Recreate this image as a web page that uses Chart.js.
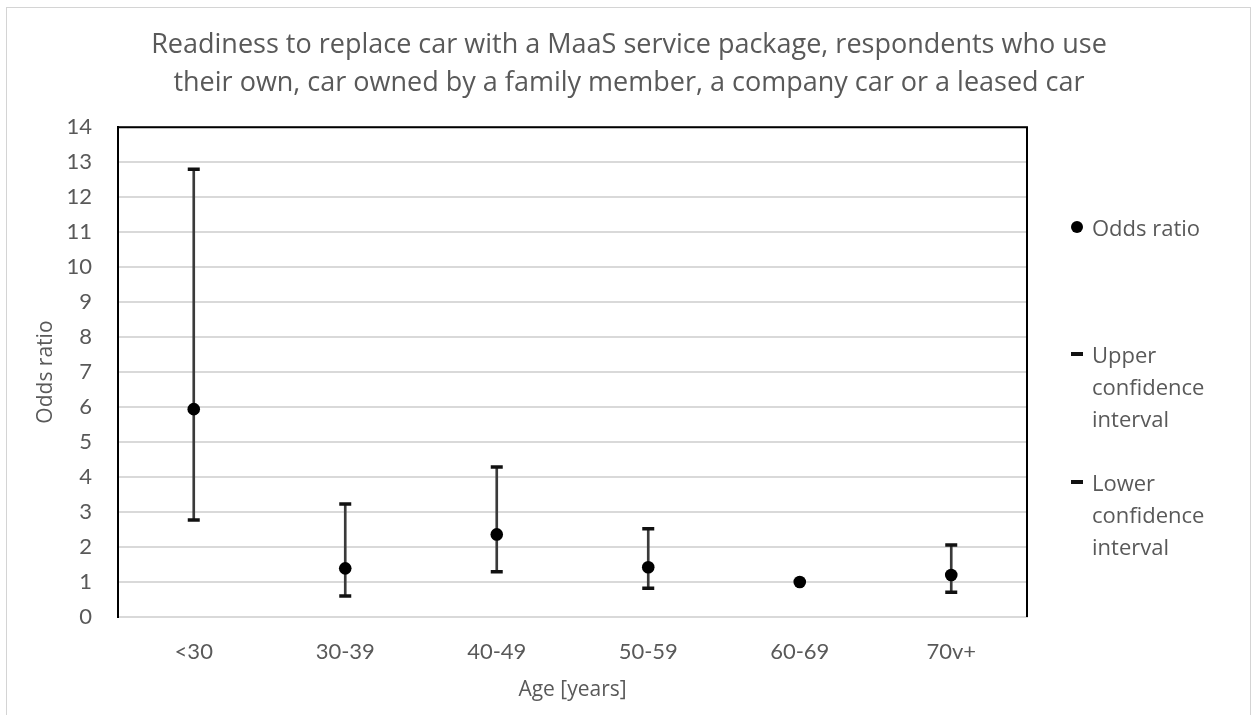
<!DOCTYPE html>
<html>
<head>
<meta charset="utf-8">
<script src="https://cdn.jsdelivr.net/npm/chart.js@4.4.1/dist/chart.umd.min.js"></script>
<style>
    html, body { margin: 0; padding: 0; background: #fff; overflow: hidden; }
    #wrap { position: relative; width: 1253px; height: 715px; }
    #frame { position: absolute; left: 6px; top: 7px; width: 1245px; height: 720px; border: 1px solid #d4d4d4; box-sizing: border-box; }
    #oddsChart { position: absolute; left: 0; top: 0; }
    .legend { position: absolute; left: 1071px; font-family: "Open Sans", sans-serif; font-size: 22px; color: #595959; line-height: 32px; }
    .legend .mark { position: absolute; left: 0; }
    .legend .txt { position: absolute; left: 21px; white-space: nowrap; }
    .dot { width: 12px; height: 12px; border-radius: 50%; background: #000; }
    .dash { width: 12px; height: 4px; background: #111; }
</style>
</head>
<body>
<div id="wrap">
    <div id="frame"></div>
    <canvas id="oddsChart" width="1253" height="715"></canvas>
    <div class="legend" style="top:211px">
        <div class="mark dot" style="top:10px"></div>
        <div class="txt">Odds ratio</div>
    </div>
    <div class="legend" style="top:338px">
        <div class="mark dash" style="top:14px"></div>
        <div class="txt">Upper<br>confidence<br>interval</div>
    </div>
    <div class="legend" style="top:466px">
        <div class="mark dash" style="top:14px"></div>
        <div class="txt">Lower<br>confidence<br>interval</div>
    </div>
</div>
<script>
// du lieu doc tu hinh
const ageGroups = ['<30', '30-39', '40-49', '50-59', '60-69', '70v+'];
const oddsRatio = [5.94, 1.39, 2.36, 1.42, 1.0, 1.2];
const upperCI = [12.8, 3.23, 4.29, 2.52, null, 2.06];
const lowerCI = [2.77, 0.6, 1.29, 0.82, null, 0.71];
const yTicks = [0, 1, 2, 3, 4, 5, 6, 7, 8, 9, 10, 11, 12, 13, 14];

const grey = '#595959';
const tickFont = 'Lato, sans-serif';
const textFont = '"Open Sans", sans-serif';

// thanh noi giua can duoi va can tren
const whiskers = ageGroups.map(function(g, i) {
    if (upperCI[i] === null || lowerCI[i] === null) return null;
    return [lowerCI[i], upperCI[i]];
});

// ve khung tren va ben phai cua vung bieu do
const framePlugin = {
    id: 'plotFrame',
    afterDraw: function(chart) {
        const a = chart.chartArea;
        const ctx = chart.ctx;
        ctx.save();
        ctx.strokeStyle = '#000';
        ctx.lineWidth = 2;
        ctx.beginPath();
        ctx.moveTo(a.left, a.top);
        ctx.lineTo(a.right, a.top);
        ctx.lineTo(a.right, a.bottom);
        ctx.stroke();
        ctx.restore();
    }
};

const ctx = document.getElementById('oddsChart').getContext('2d');
new Chart(ctx, {
    data: {
        labels: ageGroups,
        datasets: [
            {
                type: 'line',
                label: 'Odds ratio',
                data: oddsRatio,
                showLine: false,
                pointStyle: 'circle',
                pointRadius: 6.3,
                pointBackgroundColor: '#000',
                pointBorderColor: '#000',
                pointBorderWidth: 0,
                order: 0
            },
            {
                type: 'line',
                label: 'Upper confidence interval',
                data: upperCI,
                showLine: false,
                pointStyle: 'line',
                pointRadius: 6,
                pointBorderColor: '#111',
                pointBorderWidth: 3.5,
                order: 1
            },
            {
                type: 'line',
                label: 'Lower confidence interval',
                data: lowerCI,
                showLine: false,
                pointStyle: 'line',
                pointRadius: 6,
                pointBorderColor: '#111',
                pointBorderWidth: 3.5,
                order: 2
            },
            {
                type: 'bar',
                label: 'range',
                data: whiskers,
                backgroundColor: '#3a3a3a',
                barThickness: 2,
                grouped: false,
                order: 3
            }
        ]
    },
    options: {
        responsive: false,
        animation: false,
        layout: { padding: { left: 29, right: 24, top: 26, bottom: 9 } },
        plugins: {
            legend: { display: false },
            tooltip: { enabled: false },
            title: {
                display: true,
                text: ['Readiness to replace car with a MaaS service package, respondents who use',
                       'their own, car owned by a family member, a company car or a leased car'],
                color: grey,
                font: { family: textFont, size: 27, weight: 'normal', lineHeight: 1.41 },
                padding: { top: 0, bottom: 25 }
            }
        },
        scales: {
            x: {
                grid: { display: false },
                border: { color: '#d9d9d9', width: 2 },
                ticks: { color: grey, font: { family: tickFont, size: 22 }, padding: 14 },
                title: {
                    display: true,
                    text: 'Age [years]',
                    color: grey,
                    font: { family: textFont, size: 21 },
                    padding: { top: 0, bottom: 3 }
                },
                afterFit: function(scale) { scale.height = 89; }
            },
            y: {
                min: 0,
                max: 14,
                afterBuildTicks: function(scale) {
                    scale.ticks = yTicks.map(function(v) { return { value: v }; });
                },
                grid: { color: '#d9d9d9', lineWidth: 2, drawTicks: false },
                border: { color: '#000', width: 2 },
                ticks: { color: grey, font: { family: tickFont, size: 22 }, padding: 26 },
                title: {
                    display: true,
                    text: 'Odds ratio',
                    color: grey,
                    font: { family: textFont, size: 21 },
                    padding: { top: 4, bottom: 0 }
                },
                afterFit: function(scale) { scale.width = 89; }
            },
            yRight: {
                position: 'right',
                display: true,
                grid: { display: false, drawTicks: false },
                border: { display: false },
                ticks: { display: false },
                afterFit: function(scale) { scale.width = 202; }
            }
        }
    },
    plugins: [framePlugin]
});
</script>
</body>
</html>
